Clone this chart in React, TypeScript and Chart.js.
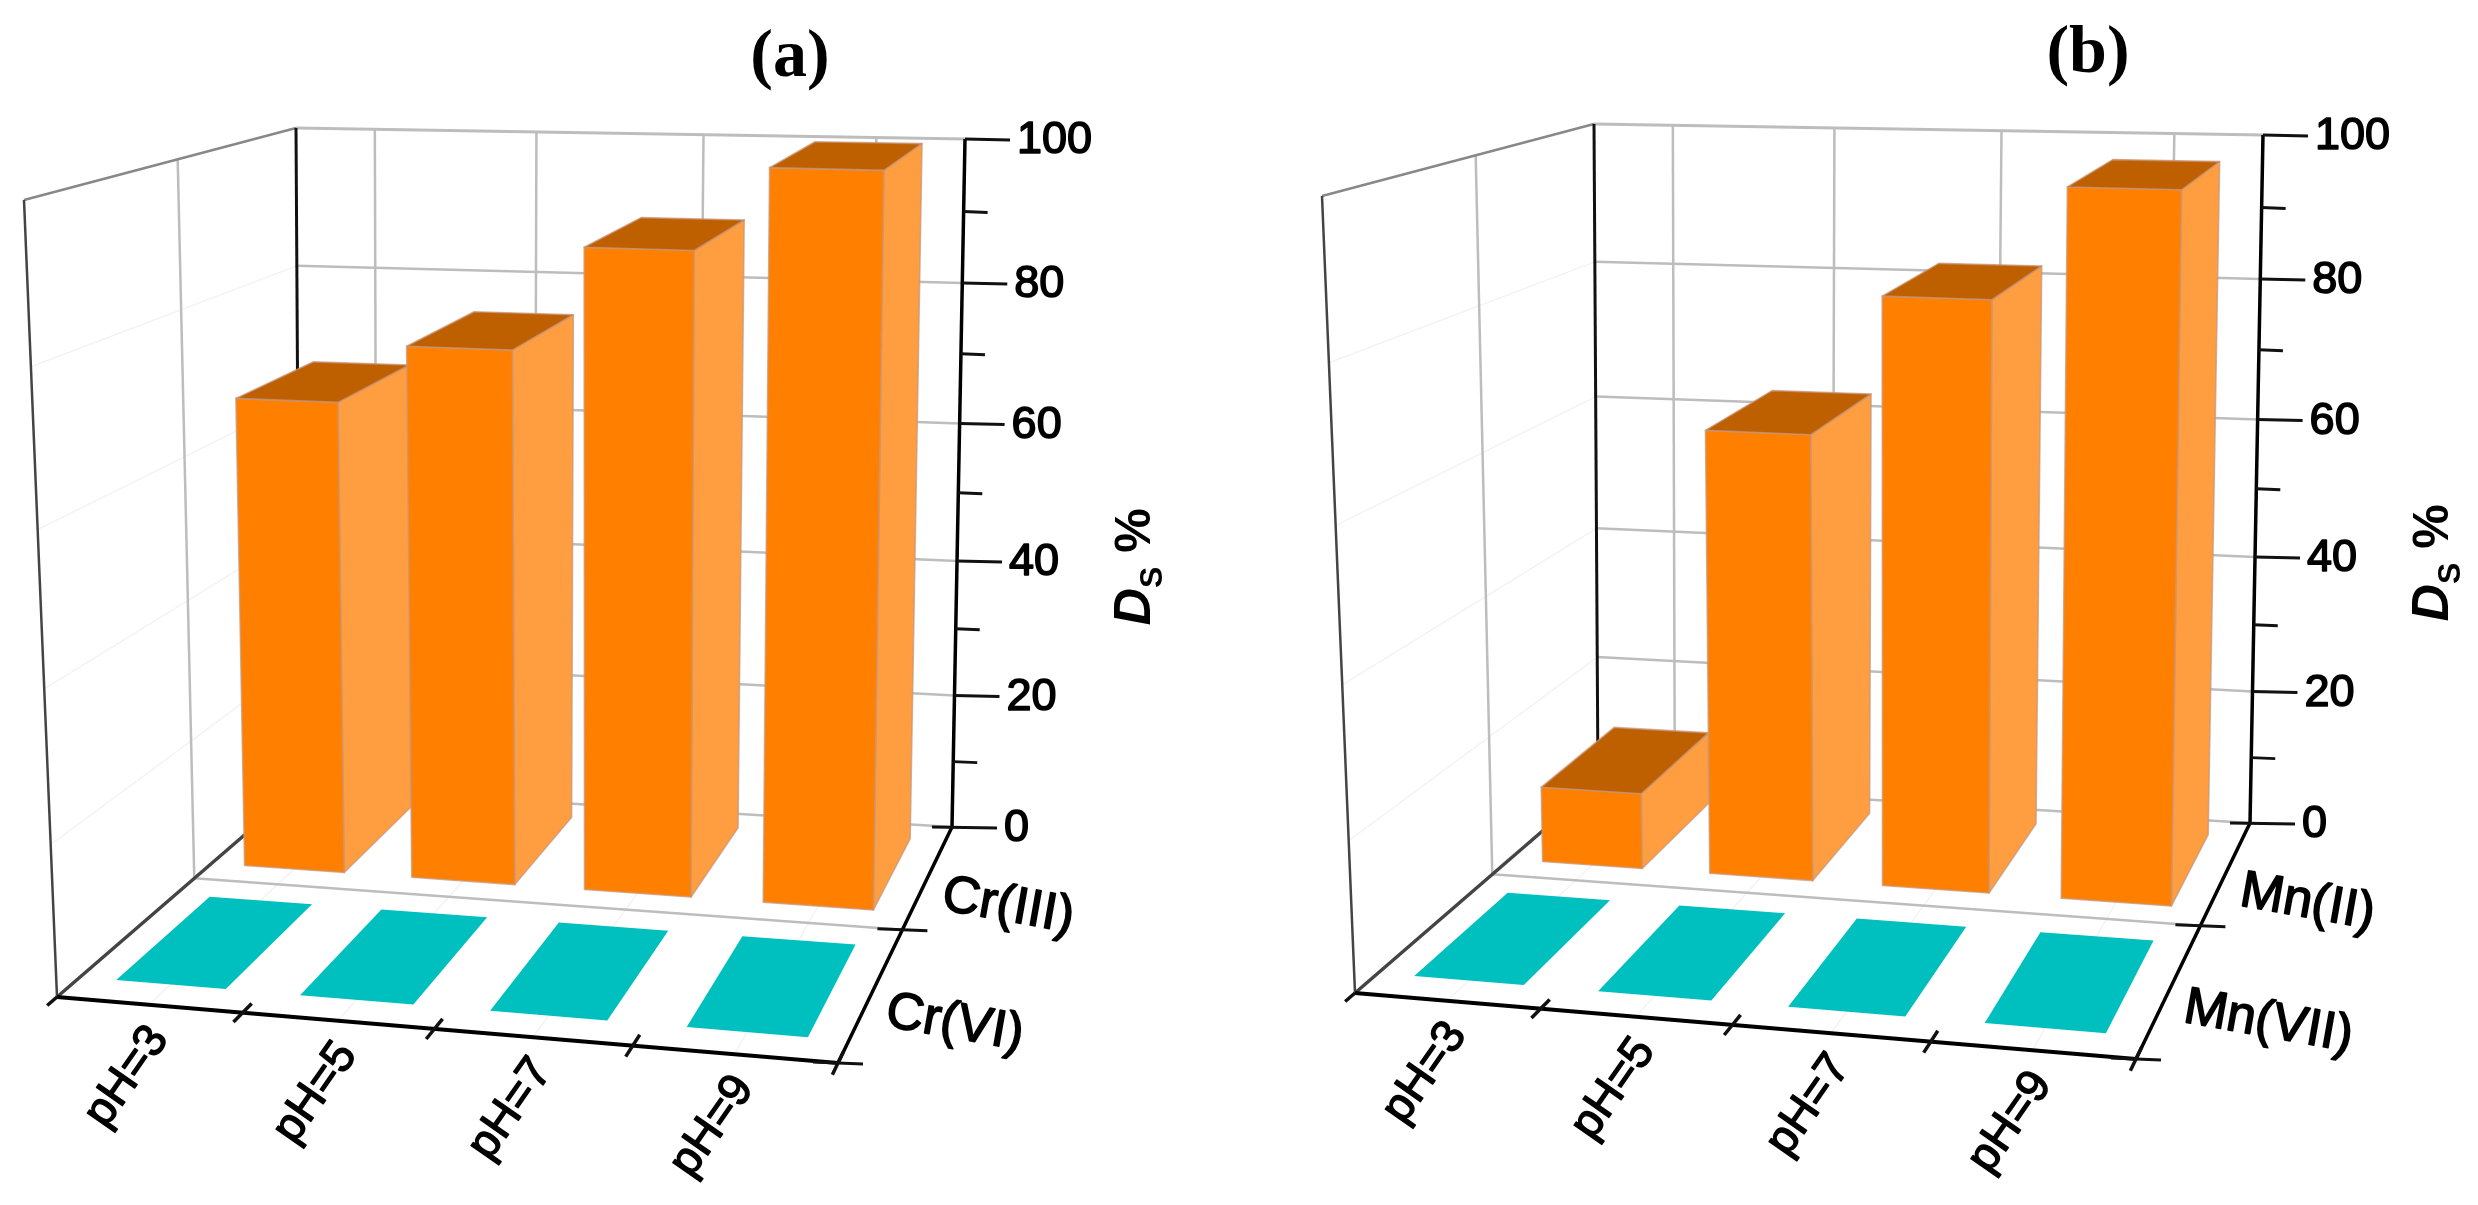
import React, { useEffect, useRef } from "react";
import { Chart, registerables } from "chart.js";

Chart.register(...registerables);

const phLabels = ["pH=3", "pH=5", "pH=7", "pH=9"];
const crRows = ["Cr(VI)", "Cr(III)"];
const crVI = [0, 0, 0, 0];
const crIII = [67, 75, 89, 100];
const mnRows = ["Mn(VII)", "Mn(II)"];
const mnVII = [0, 0, 0, 0];
const mnII = [11, 63, 82, 97];
const yMajorStep = 20;
const yMinorStep = 10;
const axisTitleMain = "D";
const axisTitleSub = "S";
const axisTitleUnit = " %";

type Pt = [number, number];
const BL0: Pt = [300, 787];
const BR0: Pt = [952, 827];
const FR0: Pt = [838, 1063];
const FL0: Pt = [57, 997];
const BL1: Pt = [296, 128];
const BR1: Pt = [965, 139];
const FR1: Pt = [848, 228];
const FL1: Pt = [24, 200];
const warp = (x: number, k: number) => (x * k) / (1 - x + x * k);
const KU = 0.935, KV = 0.77, KW = 0.945;
const DEPTH = 0.7;
const mix = (a: Pt, b: Pt, t: number): Pt => [a[0] + (b[0] - a[0]) * t, a[1] + (b[1] - a[1]) * t];
function project(u: number, v: number, w: number): Pt {
  const uu = warp(u, KU), vv = warp(v, KV), ww = warp(w, KW);
  const floor = mix(mix(BL0, BR0, uu), mix(FL0, FR0, uu), vv);
  const ceil = mix(mix(BL1, BR1, uu), mix(FL1, FR1, uu), vv);
  return mix(floor, ceil, ww);
}

const SANS = '"Liberation Sans", Arial, sans-serif';

function line(ctx: CanvasRenderingContext2D, a: Pt, b: Pt, color: string, width: number) {
  ctx.strokeStyle = color;
  ctx.lineWidth = width;
  ctx.beginPath();
  ctx.moveTo(a[0], a[1]);
  ctx.lineTo(b[0], b[1]);
  ctx.stroke();
}
function poly(ctx: CanvasRenderingContext2D, pts: Pt[], fill: string, stroke?: string) {
  ctx.beginPath();
  pts.forEach((p, i) => (i ? ctx.lineTo(p[0], p[1]) : ctx.moveTo(p[0], p[1])));
  ctx.closePath();
  ctx.fillStyle = fill;
  ctx.fill();
  if (stroke) {
    ctx.strokeStyle = stroke;
    ctx.lineWidth = 1.6;
    ctx.stroke();
  }
}
function heavyText(ctx: CanvasRenderingContext2D, text: string, x: number, y: number, weight: number) {
  ctx.strokeStyle = "#000000";
  ctx.lineWidth = weight;
  ctx.lineJoin = "round";
  ctx.strokeText(text, x, y);
  ctx.fillText(text, x, y);
}

function makePlugin(title: string, rows: string[]) {
  const frac = (chart: any, value: number) => {
    const y = chart.scales.y;
    return (y.bottom - y.getPixelForValue(value)) / (y.bottom - y.top);
  };
  const uOfTick = (chart: any, i: number) => {
    const x = chart.scales.x;
    return (x.getPixelForTick(i) - x.left) / (x.right - x.left);
  };
  return {
    id: "box3d",
    beforeDatasetsDraw(chart: any) {
      const ctx: CanvasRenderingContext2D = chart.ctx;
      const y = chart.scales.y;
      ctx.save();
      ctx.lineCap = "butt";
      const light = "#f3f3f3", grid = "#bdbdbd", dark = "#444444";
      // faint lines
      phLabels.forEach((_, i) => line(ctx, project(uOfTick(chart, i), 0, 0), project(uOfTick(chart, i), 1, 0), light, 1.5));
      y.ticks.forEach((t: any) => {
        if (t.value % yMajorStep === 0 && t.value > 0 && t.value < 100) {
          const w = frac(chart, t.value);
          line(ctx, project(0, 0, w), project(0, 1, w), light, 1.5);
          line(ctx, project(0, 0, w), project(1, 0, w), grid, 2.5);
        }
      });
      // back wall
      phLabels.forEach((_, i) => line(ctx, project(uOfTick(chart, i), 0, 0), project(uOfTick(chart, i), 0, 1), grid, 2.5));
      line(ctx, project(0, 0, 1), project(1, 0, 1), grid, 3);
      line(ctx, project(0, 0, 0), project(1, 0, 0), grid, 2.5);
      // left wall
      line(ctx, project(0, 0.5, 0), project(0, 0.5, 1), grid, 2.5);
      line(ctx, project(0, 0, 1), project(0, 1, 1), "#888888", 2.5);
      line(ctx, project(0, 1, 0), project(0, 1, 1), dark, 2.5);
      line(ctx, project(0, 0, 0), project(0, 0, 1), "#111111", 3);
      // floor
      line(ctx, project(0, 0.5, 0), project(1, 0.5, 0), grid, 2.5);
      line(ctx, project(0, 0, 0), project(0, 1, 0), dark, 3.5);
      line(ctx, project(0, 1, 0), project(1, 1, 0), "#000000", 4);
      line(ctx, project(1, 0, 0), project(1, 1, 0), "#000000", 3.5);
      // x ticks at category boundaries on the front edge
      for (let i = 0; i <= phLabels.length; i++) {
        const u = i / phLabels.length;
        const p = project(u, 1, 0), q = project(u, 0.9, 0);
        const d = Math.hypot(q[0] - p[0], q[1] - p[1]);
        const dx = (q[0] - p[0]) / d, dy = (q[1] - p[1]) / d;
        line(ctx, [p[0] - 13 * dx, p[1] - 13 * dy], [p[0] + (i === 0 ? 0 : 13) * dx, p[1] + (i === 0 ? 0 : 13) * dy], "#111111", 3.5);
      }
      // depth ticks
      [0.5, 1].forEach((v) => {
        const p = project(1, v, 0);
        line(ctx, [p[0] - 25, p[1] - 1], [p[0] + 25, p[1] + 1], "#111111", 3);
      });
      // y axis
      line(ctx, project(1, 0, 0), project(1, 0, 1), "#000000", 3.5);
      y.ticks.forEach((t: any) => {
        const p = project(1, 0, frac(chart, t.value));
        const major = t.value % yMajorStep === 0;
        const len = major ? 45 : 24;
        line(ctx, [p[0] - (t.value === 0 ? 20 : 0), p[1]], [p[0] + len, p[1] + 1], "#111111", 3);
      });
      ctx.restore();
    },
    beforeDatasetDraw(chart: any, args: any) {
      const ctx: CanvasRenderingContext2D = chart.ctx;
      const meta = args.meta;
      const ds = chart.data.datasets[args.index];
      const x = chart.scales.x, y = chart.scales.y;
      const span = x.right - x.left;
      const vc = (args.index === 0 ? 1.5 : 0.5) / rows.length;
      const half = (DEPTH * 0.5) / rows.length;
      const v0 = vc - half, v1 = vc + half;
      ctx.save();
      ctx.lineJoin = "round";
      meta.data.forEach((el: any) => {
        const u0 = (el.x - el.width / 2 - x.left) / span;
        const u1 = (el.x + el.width / 2 - x.left) / span;
        const w = (el.base - el.y) / (y.bottom - y.top);
        if (w > 0) {
          poly(ctx, [project(u1, v0, 0), project(u1, v1, 0), project(u1, v1, w), project(u1, v0, w)], ds.sideColor, ds.edgeColor);
          poly(ctx, [project(u0, v1, 0), project(u1, v1, 0), project(u1, v1, w), project(u0, v1, w)], ds.backgroundColor, ds.edgeColor);
        }
        poly(ctx, [project(u0, v0, w), project(u1, v0, w), project(u1, v1, w), project(u0, v1, w)], ds.topColor, ds.edgeColor);
      });
      ctx.restore();
      return false;
    },
    afterDatasetsDraw(chart: any) {
      const ctx: CanvasRenderingContext2D = chart.ctx;
      const y = chart.scales.y;
      ctx.save();
      ctx.fillStyle = "#000000";
      // title
      ctx.font = 'bold 68px "Liberation Serif", serif';
      ctx.textAlign = "center";
      ctx.textBaseline = "middle";
      ctx.fillText(title, 790, 58);
      // y tick labels
      ctx.font = `45px ${SANS}`;
      ctx.textAlign = "left";
      y.ticks.forEach((t: any) => {
        if (t.value % yMajorStep !== 0) return;
        const p = project(1, 0, frac(chart, t.value));
        heavyText(ctx, String(t.value), p[0] + 52, p[1] + 2, 1.6);
      });
      // category labels
      ctx.font = `46px ${SANS}`;
      ctx.textAlign = "center";
      phLabels.forEach((label, i) => {
        const p = project(uOfTick(chart, i), 1, 0);
        ctx.save();
        ctx.translate(p[0] - 22, p[1] + 72);
        ctx.rotate((-55 * Math.PI) / 180);
        heavyText(ctx, label, 0, 0, 1.4);
        ctx.restore();
      });
      // depth labels
      ctx.font = `52px ${SANS}`;
      ctx.textAlign = "left";
      rows.forEach((label, i) => {
        const v = (rows.length - 1 - i + 0.5) / rows.length;
        const p = project(1, v, 0);
        ctx.save();
        ctx.translate(p[0] + 14, p[1] + 20);
        ctx.rotate((10 * Math.PI) / 180);
        heavyText(ctx, label, 0, 0, 1.6);
        ctx.restore();
      });
      // axis title
      ctx.save();
      ctx.translate(1132, 567);
      ctx.rotate(-Math.PI / 2);
      const mainFont = `italic bold 52px ${SANS}`;
      const subFont = `bold 32px ${SANS}`;
      const unitFont = `bold 50px ${SANS}`;
      ctx.font = mainFont;
      const a = ctx.measureText(axisTitleMain).width;
      ctx.font = subFont;
      const b = ctx.measureText(axisTitleSub).width;
      ctx.font = unitFont;
      const c = ctx.measureText(axisTitleUnit).width;
      let cx = -(a + b + c) / 2;
      ctx.textBaseline = "alphabetic";
      ctx.font = mainFont;
      ctx.fillText(axisTitleMain, cx, 18);
      cx += a;
      ctx.font = subFont;
      ctx.fillText(axisTitleSub, cx, 30);
      cx += b;
      ctx.font = unitFont;
      ctx.fillText(axisTitleUnit, cx, 18);
      ctx.restore();
      ctx.restore();
    },
  };
}

const ORANGE = { backgroundColor: "#FF8000", sideColor: "#FF9E40", topColor: "#BF6000", edgeColor: "rgba(200,150,120,0.75)" };
const TEAL = { backgroundColor: "#00BFBF", sideColor: "#40CFCF", topColor: "#00BFBF", edgeColor: undefined };

function Panel(props: { title: string; rows: string[]; front: number[]; back: number[]; left: number; top: number; width: number }) {
  const ref = useRef<HTMLCanvasElement | null>(null);
  useEffect(() => {
    const height = 1209;
    const chart = new Chart(ref.current as HTMLCanvasElement, {
      type: "bar",
      data: {
        labels: phLabels,
        datasets: [
          { label: props.rows[0], data: props.front, ...TEAL },
          { label: props.rows[1], data: props.back, ...ORANGE },
        ] as any,
      },
      options: {
        animation: false,
        responsive: false,
        devicePixelRatio: 1,
        layout: { padding: { left: 296, right: props.width - 952, top: 139, bottom: height - 827 } },
        datasets: { bar: { grouped: false, barPercentage: 0.6, categoryPercentage: 1 } },
        plugins: { legend: { display: false }, tooltip: { enabled: false }, title: { display: false } },
        scales: {
          x: { type: "category", display: false },
          y: { type: "linear", display: false, min: 0, max: 100, ticks: { stepSize: yMinorStep } },
        },
      } as any,
      plugins: [makePlugin(props.title, props.rows) as any],
    });
    return () => chart.destroy();
  }, []);
  return (
    <canvas
      ref={ref}
      width={props.width}
      height={1209}
      style={{ position: "absolute", left: props.left, top: props.top, width: props.width, height: 1209, display: "block" }}
    />
  );
}

export default function App() {
  return (
    <div style={{ position: "absolute", left: 0, top: 0, width: 2478, height: 1205, overflow: "hidden", background: "#ffffff" }}>
      <Panel title="(a)" rows={crRows} front={crVI} back={crIII} left={0} top={0} width={1240} />
      <Panel title="(b)" rows={mnRows} front={mnVII} back={mnII} left={1298} top={-4} width={1180} />
    </div>
  );
}
